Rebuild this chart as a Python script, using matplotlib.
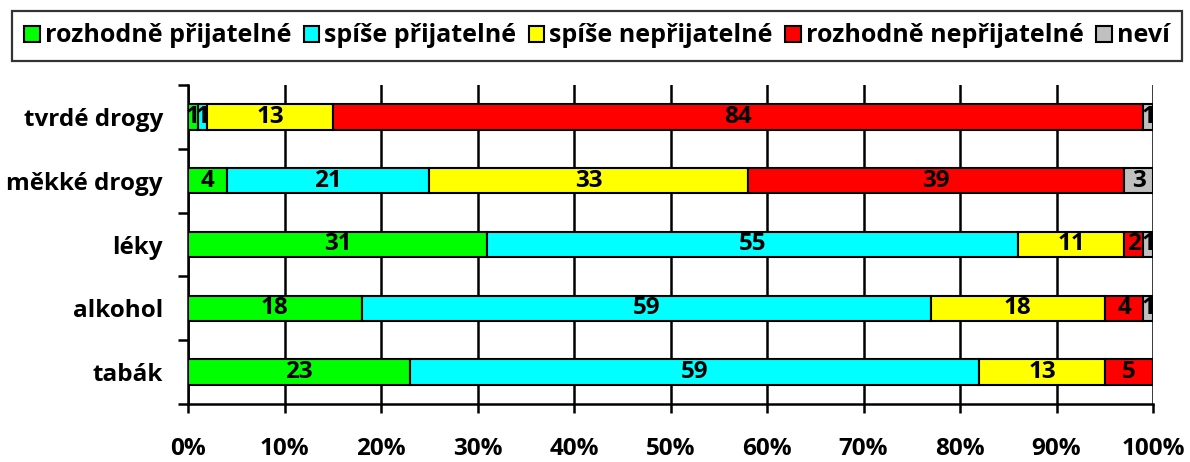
import matplotlib
matplotlib.use("Agg")
import matplotlib.pyplot as plt
import numpy as np

plt.rcParams['font.family'] = ['Open Sans', 'DejaVu Sans']
plt.rcParams['font.weight'] = 'bold'

categories = ["tvrdé drogy", "měkké drogy", "léky", "alkohol", "tabák"]
series_names = ["rozhodně přijatelné", "spíše přijatelné", "spíše nepřijatelné",
                "rozhodně nepřijatelné", "neví"]
rozhodne_prij = [1, 4, 31, 18, 23]
spise_prij = [1, 21, 55, 59, 59]
spise_neprij = [13, 33, 11, 18, 13]
rozhodne_neprij = [84, 39, 2, 4, 5]
nevi = [1, 3, 1, 1, 0]
colors = ["#00FF00", "#00FFFF", "#FFFF00", "#FF0000", "#C0C0C0"]
xtick_labels = ["0%", "10%", "20%", "30%", "40%", "50%", "60%", "70%", "80%", "90%", "100%"]

series = [rozhodne_prij, spise_prij, spise_neprij, rozhodne_neprij, nevi]
data = np.array(series, dtype=float)
totals = data.sum(axis=0)
pct = data / totals * 100

FS = 17.5

fig = plt.figure(figsize=(11.9, 4.62), dpi=100)
ax = fig.add_axes([188/1190, 1-404/462, (1153-188)/1190, (404-85)/462])

n = len(categories)
ypos = np.arange(n)[::-1]
left = np.zeros(n)
handles = []
for i, name in enumerate(series_names):
    bars = ax.barh(ypos, pct[i], left=left, height=0.4, color=colors[i],
                   edgecolor='black', linewidth=1.5, label=name, zorder=3)
    handles.append(bars)
    for j in range(n):
        v = data[i][j]
        if v > 0:
            ax.text(left[j] + pct[i][j]/2, ypos[j], f"{int(v)}", ha='center', va='center',
                    fontsize=FS, fontweight='bold', color='black', zorder=4)
    left += pct[i]

ax.set_xlim(0, 100)
ax.set_ylim(-0.5, n - 0.5)
ax.set_xticks(np.arange(0, 101, 10))
ax.set_xticklabels(xtick_labels, fontsize=FS, fontweight='bold')
ax.tick_params(axis='x', direction='out', length=6.5, width=1.8, pad=17)
ax.grid(axis='x', color='black', linewidth=1.8, zorder=0)
ax.set_yticks(ypos)
ax.set_yticklabels(categories, fontsize=FS, fontweight='bold')
ax.tick_params(axis='y', which='major', length=0, pad=18)
ax.set_yticks(np.arange(-0.5, n, 1), minor=True)
ax.tick_params(axis='y', which='minor', direction='out', length=7.2, width=1.8)
for s in ['top', 'right']:
    ax.spines[s].set_visible(False)
for s in ['left', 'bottom']:
    ax.spines[s].set_linewidth(1.8)
ax.set_axisbelow(True)

leg = fig.legend(handles=handles, labels=series_names, ncol=5, loc='upper center',
                 bbox_to_anchor=(597/1190, 1-11/462),
                 frameon=True, fancybox=False, edgecolor='black', fontsize=18,
                 handlelength=0.62, handleheight=0.62, handletextpad=0.2, columnspacing=0.5,
                 borderpad=0.5, borderaxespad=0)
leg.get_frame().set_linewidth(1.6)
for t in leg.get_texts():
    t.set_fontweight('bold')

fig.savefig("out.png", dpi=100)
